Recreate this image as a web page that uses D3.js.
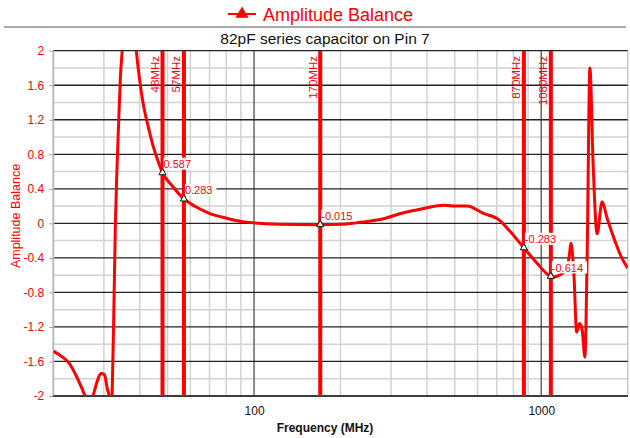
<!DOCTYPE html>
<html><head><meta charset="utf-8">
<script src="https://cdn.jsdelivr.net/npm/d3@7"></script>
<style>
html,body{margin:0;padding:0;background:#fff;}
svg{display:block;font-family:Arial,"Liberation Sans",sans-serif;}
</style></head>
<body>
<svg id="chart" width="630" height="438"></svg>
<script>
// ---- data ----
const freqMHz = [20,21.55,22.7,24.3,25.8,26.6,27.5,28.5,29.3,30.1,30.9,31.3,31.65,32.05,32.5,32.9,33.3,33.8,34.25,34.75,36.6,38.9,39.9,41.0,42.66,44.4,46.2,48,52,57,62,69.9,80,91,122,170,203,245,280,328.6,385.7,459,504,553,623.6,712.8,772.4,870,960,1080,1107,1140,1183,1231,1255,1268,1285,1300,1328,1360,1389,1419,1445,1477,1516,1565,1629,1696,1790,1889,2000];
const balance = [-1.48,-1.55,-1.62,-1.80,-2.0,-2.12,-2.0,-1.82,-1.74,-1.75,-1.93,-2.0,-2.4,-2.0,-1.0,0,0.6,1.2,1.7,2.0,3.2,2.0,1.68,1.41,1.14,0.91,0.73,0.587,0.43,0.283,0.2,0.116,0.06,0.02,-0.01,-0.015,-0.01,0.02,0.05,0.12,0.17,0.21,0.20,0.20,0.12,0.04,-0.08,-0.283,-0.45,-0.614,-0.62,-0.61,-0.58,-0.5,-0.35,-0.23,-0.36,-0.6,-1.26,-1.16,-1.24,-1.55,-0.37,1.80,0.68,-0.12,0.25,0.06,-0.17,-0.37,-0.52];
const markerFreqs = [48,57,170,870,1080];
const markerLabels = ["48MHz","57MHz","170MHz","870MHz","1080MHz"];
const markerValues = [0.587,0.283,-0.015,-0.283,-0.614];
const yTicks = [-2,-1.6,-1.2,-0.8,-0.4,0,0.4,0.8,1.2,1.6,2];
const yMinor = [-1.8,-1.4,-1.0,-0.6,-0.2,0.2,0.6,1.0,1.4,1.8];
const xMajor = [100,1000];
const xMinor = [30,40,50,60,70,80,90,200,300,400,500,600,700,800,900];
const xTickLabels = ["100","1000"];
const legendText = "Amplitude Balance";
const titleText = "82pF series capacitor on Pin 7";
const xTitle = "Frequency (MHz)";
const yTitle = "Amplitude Balance";

// ---- layout ----
const L = 53.3, R = 627.7, T = 50.7, B = 396;
const RED = "#ff0000";
const svg = d3.select("#chart");
const x = d3.scaleLog().domain([20,2000]).range([L,R]);
const y = d3.scaleLinear().domain([-2,2]).range([B,T]);

// legend
const lg = svg.append("g");
lg.append("line").attr("x1",228).attr("x2",256).attr("y1",14).attr("y2",14).attr("stroke",RED).attr("stroke-width",2);
lg.append("path").attr("d",d3.symbol(d3.symbolTriangle,75)()).attr("transform","translate(242,14)").attr("fill",RED);
lg.append("text").attr("x",263).attr("y",20.5).attr("fill",RED).attr("font-size",18).text(legendText);
svg.append("line").attr("x1",4).attr("x2",626).attr("y1",27).attr("y2",27).attr("stroke","#555").attr("stroke-width",1);
svg.append("text").attr("x",325).attr("y",44).attr("text-anchor","middle").attr("fill","#111").attr("font-size",15.5).text(titleText);

// grid
const g = svg.append("g");
g.selectAll(".xmin").data(xMinor).join("line")
  .attr("x1",d=>x(d)).attr("x2",d=>x(d)).attr("y1",T).attr("y2",B)
  .attr("stroke","#d2d2d2").attr("stroke-width",1.5);
g.selectAll(".ymin").data(yMinor).join("line")
  .attr("x1",L).attr("x2",R).attr("y1",d=>y(d)).attr("y2",d=>y(d))
  .attr("stroke","#d2d2d2").attr("stroke-width",1.5);
g.append("line").attr("x1",R).attr("x2",R).attr("y1",T).attr("y2",B).attr("stroke","#c8c8c8").attr("stroke-width",1.5);
g.selectAll(".xmaj").data(xMajor).join("line")
  .attr("x1",d=>x(d)).attr("x2",d=>x(d)).attr("y1",T).attr("y2",B)
  .attr("stroke","#666").attr("stroke-width",1.5);
g.selectAll(".ymaj").data(yTicks).join("line")
  .attr("x1",L).attr("x2",R).attr("y1",d=>y(d)).attr("y2",d=>y(d))
  .attr("stroke","#222").attr("stroke-width",1.3);
g.append("line").attr("x1",L).attr("x2",L).attr("y1",T).attr("y2",B).attr("stroke","#bbb").attr("stroke-width",2);

// axes
const yAxis = svg.append("g").attr("transform",`translate(${L},0)`)
  .call(d3.axisLeft(y).tickValues(yTicks).tickSize(4).tickPadding(5).tickFormat(d=>String(+d.toFixed(1))));
yAxis.select(".domain").remove();
yAxis.selectAll(".tick line").attr("stroke","#999");
yAxis.selectAll("text").attr("fill",RED).attr("font-size",12).attr("font-family","Arial,'Liberation Sans',sans-serif");

const xAxis = svg.append("g").attr("transform",`translate(0,${B})`)
  .call(d3.axisBottom(x).tickValues(xMajor).tickSize(0).tickPadding(10).tickFormat((d,i)=>xTickLabels[i]));
xAxis.select(".domain").remove();
xAxis.selectAll("text").attr("fill","#111").attr("font-size",12).attr("font-family","Arial,'Liberation Sans',sans-serif");
svg.append("line").attr("x1",L).attr("x2",R).attr("y1",B).attr("y2",B).attr("stroke","#333").attr("stroke-width",1.5);

svg.append("text").attr("x",325).attr("y",432).attr("text-anchor","middle").attr("font-size",12).attr("font-weight","bold").attr("fill","#111").text(xTitle);
svg.append("text").attr("transform","translate(20,216) rotate(-90)").attr("text-anchor","middle").attr("font-size",12.5).attr("fill",RED).text(yTitle);

// clip
svg.append("clipPath").attr("id","clip").append("rect").attr("x",L).attr("y",T).attr("width",R-L).attr("height",B-T);

// marker lines
const mk = svg.append("g").attr("clip-path","url(#clip)");
mk.selectAll(".mline").data(markerFreqs).join("line")
  .attr("x1",d=>x(d)).attr("x2",d=>x(d)).attr("y1",T).attr("y2",B)
  .attr("stroke",RED).attr("stroke-width",4);

// curve
const pts = freqMHz.map((f,i)=>[f,balance[i]]);
svg.append("path").datum(pts).attr("clip-path","url(#clip)")
  .attr("fill","none").attr("stroke",RED).attr("stroke-width",3).attr("stroke-linejoin","round")
  .attr("d",d3.line().x(d=>x(d[0])).y(d=>y(d[1])).curve(d3.curveMonotoneX));

// marker labels (rotated)
svg.selectAll(".mlab").data(markerFreqs).join("text")
  .attr("transform",d=>`translate(${x(d)-3.5},56) rotate(-90)`)
  .attr("text-anchor","end").attr("font-size",11.5).attr("fill",RED)
  .text((d,i)=>markerLabels[i]);

// value labels
const vl = svg.append("g");
markerFreqs.forEach((f,i)=>{
  const mx = x(f), my = y(markerValues[i]);
  const t = vl.append("text").attr("x",mx+1).attr("y",my-4.5).attr("font-size",11).attr("fill",RED).text(String(markerValues[i]));
  const w = t.node().getComputedTextLength();
  vl.insert("rect","text").attr("x",mx+1).attr("y",my-15).attr("width",w+4).attr("height",12).attr("fill","#fff");
  vl.append("path").attr("d",d3.symbol(d3.symbolTriangle,22)()).attr("transform",`translate(${mx},${my})`)
    .attr("fill","#fff").attr("stroke","#111").attr("stroke-width",1);
});
</script>
</body></html>
